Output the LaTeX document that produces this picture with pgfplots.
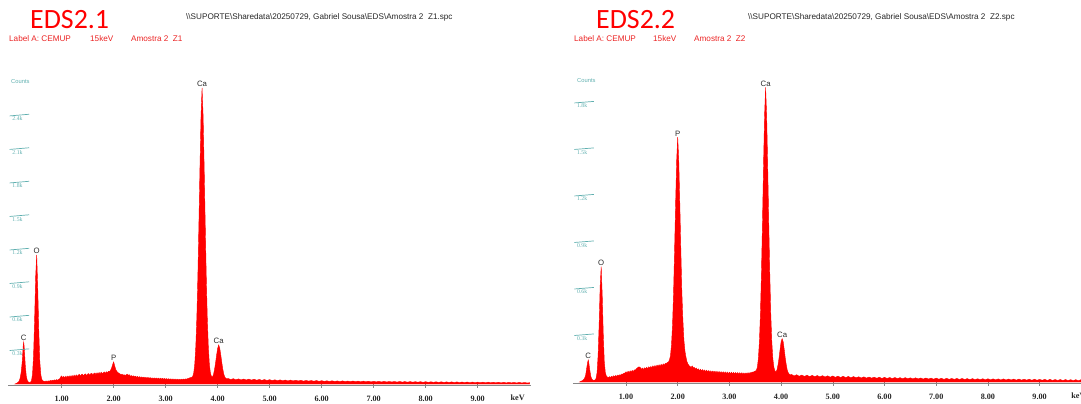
\documentclass[border=0pt]{standalone}
\usepackage{fontspec}
\setmainfont{Liberation Sans}
\newfontfamily\carlito{Carlito}
\newfontfamily\tnr{Liberation Serif}
\usepackage{pgfplots}
\usepackage{pgfplotstable}
\pgfplotsset{compat=1.18}
\definecolor{specred}{RGB}{255,0,0}
\definecolor{hdrred}{RGB}{235,35,35}
\definecolor{tealc}{RGB}{95,175,175}
\definecolor{axgray}{RGB}{135,135,135}
\definecolor{pklab}{RGB}{45,45,45}

\pgfplotstableread[row sep=\\]{
x y\\
0.10 0.000\\ 0.12 0.004\\ 0.14 0.008\\ 0.16 0.015\\ 0.18 0.025\\ 0.20 0.050\\ 0.22 0.100\\ 0.24 0.190\\ 0.26 0.340\\ 0.27 0.376\\
0.28 0.330\\ 0.30 0.170\\ 0.32 0.070\\ 0.34 0.030\\ 0.36 0.018\\ 0.38 0.014\\ 0.40 0.016\\ 0.42 0.030\\ 0.44 0.090\\ 0.46 0.260\\
0.48 0.580\\ 0.50 0.960\\ 0.52 1.155\\ 0.54 0.860\\ 0.56 0.480\\ 0.58 0.200\\ 0.60 0.080\\ 0.62 0.040\\ 0.64 0.028\\ 0.66 0.025\\
0.68 0.022\\ 0.70 0.028\\ 0.72 0.021\\ 0.74 0.029\\ 0.76 0.024\\ 0.78 0.032\\ 0.80 0.026\\ 0.82 0.034\\ 0.84 0.028\\ 0.86 0.037\\
0.88 0.031\\ 0.90 0.040\\ 0.92 0.034\\ 0.94 0.042\\ 0.96 0.045\\ 0.98 0.062\\ 1.00 0.072\\ 1.02 0.056\\ 1.04 0.068\\ 1.06 0.054\\
1.08 0.070\\ 1.10 0.058\\ 1.12 0.072\\ 1.14 0.059\\ 1.16 0.075\\ 1.18 0.060\\ 1.20 0.077\\ 1.22 0.064\\ 1.24 0.080\\ 1.26 0.066\\
1.28 0.082\\ 1.30 0.068\\ 1.32 0.081\\ 1.34 0.086\\ 1.36 0.070\\ 1.38 0.085\\ 1.40 0.088\\ 1.42 0.073\\ 1.44 0.087\\ 1.46 0.091\\
1.48 0.075\\ 1.50 0.089\\ 1.52 0.094\\ 1.54 0.078\\ 1.56 0.093\\ 1.58 0.096\\ 1.60 0.081\\ 1.62 0.095\\ 1.64 0.099\\ 1.66 0.084\\
1.68 0.101\\ 1.70 0.088\\ 1.72 0.104\\ 1.74 0.090\\ 1.76 0.106\\ 1.78 0.094\\ 1.80 0.100\\ 1.82 0.108\\ 1.84 0.096\\ 1.86 0.110\\
1.88 0.101\\ 1.90 0.114\\ 1.92 0.109\\ 1.94 0.124\\ 1.96 0.142\\ 1.98 0.174\\ 2.00 0.198\\ 2.02 0.162\\ 2.04 0.130\\ 2.06 0.114\\
2.08 0.104\\ 2.10 0.096\\ 2.12 0.092\\ 2.14 0.084\\ 2.16 0.088\\ 2.18 0.078\\ 2.20 0.084\\ 2.22 0.076\\ 2.24 0.082\\ 2.26 0.088\\
2.28 0.078\\ 2.30 0.084\\ 2.32 0.070\\ 2.34 0.076\\ 2.36 0.068\\ 2.38 0.074\\ 2.40 0.064\\ 2.42 0.070\\ 2.44 0.060\\ 2.46 0.068\\
2.48 0.058\\ 2.50 0.066\\ 2.52 0.056\\ 2.54 0.064\\ 2.56 0.055\\ 2.58 0.062\\ 2.60 0.053\\ 2.62 0.060\\ 2.64 0.052\\ 2.66 0.059\\
2.68 0.050\\ 2.70 0.058\\ 2.72 0.049\\ 2.74 0.056\\ 2.76 0.048\\ 2.78 0.055\\ 2.80 0.047\\ 2.82 0.054\\ 2.84 0.046\\ 2.86 0.053\\
2.88 0.045\\ 2.90 0.052\\ 2.92 0.044\\ 2.94 0.051\\ 2.96 0.043\\ 2.98 0.050\\ 3.00 0.042\\ 3.02 0.049\\ 3.04 0.041\\ 3.06 0.048\\
3.08 0.040\\ 3.10 0.047\\ 3.12 0.039\\ 3.14 0.046\\ 3.16 0.038\\ 3.18 0.045\\ 3.20 0.037\\ 3.22 0.044\\ 3.24 0.036\\ 3.26 0.043\\
3.28 0.037\\ 3.30 0.044\\ 3.32 0.038\\ 3.34 0.045\\ 3.36 0.040\\ 3.38 0.046\\ 3.40 0.043\\ 3.42 0.049\\ 3.44 0.050\\ 3.46 0.055\\
3.48 0.058\\ 3.50 0.060\\ 3.52 0.068\\ 3.54 0.100\\ 3.56 0.180\\ 3.58 0.340\\ 3.60 0.600\\ 3.62 0.980\\ 3.64 1.450\\ 3.66 1.950\\
3.68 2.400\\ 3.70 2.650\\ 3.72 2.400\\ 3.74 1.950\\ 3.76 1.450\\ 3.78 0.980\\ 3.80 0.600\\ 3.82 0.340\\ 3.84 0.180\\ 3.86 0.100\\
3.88 0.068\\ 3.90 0.062\\ 3.92 0.085\\ 3.94 0.130\\ 3.96 0.190\\ 3.98 0.260\\ 4.00 0.320\\ 4.02 0.350\\ 4.04 0.320\\ 4.06 0.260\\
4.08 0.190\\ 4.10 0.130\\ 4.12 0.085\\ 4.14 0.060\\ 4.16 0.050\\ 4.18 0.046\\ 4.20 0.050\\ 4.25 0.040\\ 4.30 0.048\\ 4.35 0.038\\
4.40 0.046\\ 4.45 0.037\\ 4.50 0.045\\ 4.55 0.036\\ 4.60 0.044\\ 4.65 0.035\\ 4.70 0.043\\ 4.75 0.034\\ 4.80 0.041\\ 4.85 0.033\\
4.90 0.040\\ 4.95 0.032\\ 5.00 0.039\\ 5.05 0.031\\ 5.10 0.038\\ 5.15 0.030\\ 5.20 0.037\\ 5.25 0.029\\ 5.30 0.036\\ 5.35 0.028\\
5.40 0.035\\ 5.45 0.028\\ 5.50 0.034\\ 5.55 0.027\\ 5.60 0.033\\ 5.65 0.026\\ 5.70 0.032\\ 5.75 0.026\\ 5.80 0.031\\ 5.85 0.025\\
5.90 0.031\\ 5.95 0.024\\ 6.00 0.030\\ 6.05 0.024\\ 6.10 0.029\\ 6.15 0.023\\ 6.20 0.029\\ 6.25 0.023\\ 6.30 0.028\\ 6.35 0.022\\
6.40 0.028\\ 6.45 0.022\\ 6.50 0.027\\ 6.55 0.021\\ 6.60 0.027\\ 6.65 0.021\\ 6.70 0.026\\ 6.75 0.020\\ 6.80 0.026\\ 6.85 0.020\\
6.90 0.025\\ 6.95 0.019\\ 7.00 0.025\\ 7.05 0.019\\ 7.10 0.024\\ 7.15 0.018\\ 7.20 0.024\\ 7.25 0.018\\ 7.30 0.023\\ 7.35 0.018\\
7.40 0.023\\ 7.45 0.017\\ 7.50 0.023\\ 7.55 0.017\\ 7.60 0.022\\ 7.65 0.016\\ 7.70 0.022\\ 7.75 0.016\\ 7.80 0.021\\ 7.85 0.016\\
7.90 0.021\\ 7.95 0.015\\ 8.00 0.021\\ 8.05 0.015\\ 8.10 0.020\\ 8.15 0.015\\ 8.20 0.020\\ 8.25 0.014\\ 8.30 0.020\\ 8.35 0.014\\
8.40 0.019\\ 8.45 0.014\\ 8.50 0.019\\ 8.55 0.013\\ 8.60 0.019\\ 8.65 0.013\\ 8.70 0.018\\ 8.75 0.013\\ 8.80 0.018\\ 8.85 0.012\\
8.90 0.018\\ 8.95 0.012\\ 9.00 0.017\\ 9.05 0.012\\ 9.10 0.017\\ 9.15 0.011\\ 9.20 0.017\\ 9.25 0.011\\ 9.30 0.016\\ 9.35 0.011\\
9.40 0.016\\ 9.45 0.010\\ 9.50 0.016\\ 9.55 0.010\\ 9.60 0.015\\ 9.65 0.010\\ 9.70 0.015\\ 9.75 0.009\\ 9.80 0.015\\ 9.85 0.009\\
9.90 0.014\\ 9.95 0.009\\ 10.00 0.012\\
}\edsA

\pgfplotstableread[row sep=\\]{
x y\\
0.10 0.000\\ 0.12 0.003\\ 0.14 0.006\\ 0.16 0.010\\ 0.18 0.015\\ 0.20 0.025\\ 0.22 0.045\\ 0.24 0.090\\ 0.26 0.130\\ 0.27 0.142\\
0.28 0.125\\ 0.30 0.075\\ 0.32 0.035\\ 0.34 0.018\\ 0.36 0.012\\ 0.38 0.011\\ 0.40 0.013\\ 0.42 0.022\\ 0.44 0.060\\ 0.46 0.170\\
0.48 0.370\\ 0.50 0.620\\ 0.52 0.744\\ 0.54 0.560\\ 0.56 0.310\\ 0.58 0.130\\ 0.60 0.060\\ 0.62 0.038\\ 0.64 0.032\\ 0.66 0.028\\
0.68 0.035\\ 0.70 0.029\\ 0.72 0.037\\ 0.74 0.031\\ 0.76 0.040\\ 0.78 0.033\\ 0.80 0.042\\ 0.82 0.036\\ 0.84 0.045\\ 0.86 0.040\\
0.88 0.047\\ 0.90 0.044\\ 0.92 0.052\\ 0.94 0.050\\ 0.96 0.056\\ 0.98 0.058\\ 1.00 0.066\\ 1.02 0.058\\ 1.04 0.070\\ 1.06 0.060\\
1.08 0.072\\ 1.10 0.064\\ 1.12 0.075\\ 1.14 0.066\\ 1.16 0.078\\ 1.18 0.076\\ 1.20 0.086\\ 1.22 0.090\\ 1.24 0.097\\ 1.26 0.097\\
1.28 0.092\\ 1.30 0.082\\ 1.32 0.090\\ 1.34 0.080\\ 1.36 0.092\\ 1.38 0.084\\ 1.40 0.095\\ 1.42 0.086\\ 1.44 0.098\\ 1.46 0.089\\
1.48 0.100\\ 1.50 0.092\\ 1.52 0.104\\ 1.54 0.094\\ 1.56 0.106\\ 1.58 0.097\\ 1.60 0.109\\ 1.62 0.100\\ 1.64 0.111\\ 1.66 0.102\\
1.68 0.114\\ 1.70 0.105\\ 1.72 0.117\\ 1.74 0.108\\ 1.76 0.120\\ 1.78 0.118\\ 1.80 0.127\\ 1.82 0.128\\ 1.84 0.142\\ 1.86 0.170\\
1.88 0.240\\ 1.90 0.370\\ 1.92 0.580\\ 1.94 0.860\\ 1.96 1.160\\ 1.98 1.430\\ 2.00 1.580\\ 2.02 1.430\\ 2.04 1.160\\ 2.06 0.860\\
2.08 0.580\\ 2.10 0.400\\ 2.12 0.270\\ 2.14 0.200\\ 2.16 0.160\\ 2.18 0.130\\ 2.20 0.115\\ 2.22 0.105\\ 2.24 0.100\\ 2.26 0.094\\
2.28 0.104\\ 2.30 0.093\\ 2.32 0.094\\ 2.34 0.084\\ 2.36 0.090\\ 2.38 0.078\\ 2.40 0.085\\ 2.42 0.073\\ 2.44 0.082\\ 2.46 0.071\\
2.48 0.080\\ 2.50 0.069\\ 2.52 0.078\\ 2.54 0.067\\ 2.56 0.076\\ 2.58 0.065\\ 2.60 0.074\\ 2.62 0.063\\ 2.64 0.072\\ 2.66 0.062\\
2.68 0.071\\ 2.70 0.061\\ 2.72 0.070\\ 2.74 0.060\\ 2.76 0.069\\ 2.78 0.059\\ 2.80 0.068\\ 2.82 0.058\\ 2.84 0.067\\ 2.86 0.057\\
2.88 0.066\\ 2.90 0.056\\ 2.92 0.065\\ 2.94 0.055\\ 2.96 0.064\\ 2.98 0.054\\ 3.00 0.063\\ 3.02 0.054\\ 3.04 0.063\\ 3.06 0.053\\
3.08 0.062\\ 3.10 0.052\\ 3.12 0.061\\ 3.14 0.052\\ 3.16 0.061\\ 3.18 0.051\\ 3.20 0.060\\ 3.22 0.051\\ 3.24 0.060\\ 3.26 0.050\\
3.28 0.059\\ 3.30 0.050\\ 3.32 0.059\\ 3.34 0.052\\ 3.36 0.060\\ 3.38 0.053\\ 3.40 0.061\\ 3.42 0.058\\ 3.44 0.064\\ 3.46 0.063\\
3.48 0.068\\ 3.50 0.070\\ 3.52 0.075\\ 3.54 0.095\\ 3.56 0.150\\ 3.58 0.260\\ 3.60 0.440\\ 3.62 0.710\\ 3.64 1.040\\ 3.66 1.400\\
3.68 1.720\\ 3.70 1.900\\ 3.72 1.720\\ 3.74 1.400\\ 3.76 1.040\\ 3.78 0.710\\ 3.80 0.440\\ 3.82 0.260\\ 3.84 0.150\\ 3.86 0.095\\
3.88 0.072\\ 3.90 0.065\\ 3.92 0.078\\ 3.94 0.110\\ 3.96 0.155\\ 3.98 0.210\\ 4.00 0.260\\ 4.02 0.280\\ 4.04 0.260\\ 4.06 0.210\\
4.08 0.155\\ 4.10 0.110\\ 4.12 0.075\\ 4.14 0.058\\ 4.16 0.050\\ 4.18 0.046\\ 4.20 0.049\\ 4.25 0.039\\ 4.30 0.047\\ 4.35 0.037\\
4.40 0.045\\ 4.45 0.036\\ 4.50 0.044\\ 4.55 0.035\\ 4.60 0.043\\ 4.65 0.034\\ 4.70 0.042\\ 4.75 0.033\\ 4.80 0.041\\ 4.85 0.032\\
4.90 0.040\\ 4.95 0.031\\ 5.00 0.039\\ 5.05 0.030\\ 5.10 0.038\\ 5.15 0.029\\ 5.20 0.037\\ 5.25 0.028\\ 5.30 0.036\\ 5.35 0.027\\
5.40 0.035\\ 5.45 0.027\\ 5.50 0.034\\ 5.55 0.026\\ 5.60 0.033\\ 5.65 0.025\\ 5.70 0.032\\ 5.75 0.025\\ 5.80 0.031\\ 5.85 0.024\\
5.90 0.031\\ 5.95 0.023\\ 6.00 0.030\\ 6.05 0.023\\ 6.10 0.029\\ 6.15 0.022\\ 6.20 0.029\\ 6.25 0.022\\ 6.30 0.028\\ 6.35 0.021\\
6.40 0.028\\ 6.45 0.021\\ 6.50 0.027\\ 6.55 0.020\\ 6.60 0.027\\ 6.65 0.020\\ 6.70 0.026\\ 6.75 0.019\\ 6.80 0.026\\ 6.85 0.019\\
6.90 0.025\\ 6.95 0.018\\ 7.00 0.025\\ 7.05 0.018\\ 7.10 0.024\\ 7.15 0.017\\ 7.20 0.024\\ 7.25 0.017\\ 7.30 0.023\\ 7.35 0.017\\
7.40 0.023\\ 7.45 0.016\\ 7.50 0.023\\ 7.55 0.016\\ 7.60 0.022\\ 7.65 0.015\\ 7.70 0.022\\ 7.75 0.015\\ 7.80 0.021\\ 7.85 0.015\\
7.90 0.021\\ 7.95 0.014\\ 8.00 0.021\\ 8.05 0.014\\ 8.10 0.020\\ 8.15 0.014\\ 8.20 0.020\\ 8.25 0.013\\ 8.30 0.020\\ 8.35 0.013\\
8.40 0.019\\ 8.45 0.013\\ 8.50 0.019\\ 8.55 0.012\\ 8.60 0.019\\ 8.65 0.012\\ 8.70 0.018\\ 8.75 0.012\\ 8.80 0.018\\ 8.85 0.011\\
8.90 0.018\\ 8.95 0.011\\ 9.00 0.017\\ 9.05 0.011\\ 9.10 0.017\\ 9.15 0.010\\ 9.20 0.017\\ 9.25 0.010\\ 9.30 0.016\\ 9.35 0.010\\
9.40 0.016\\ 9.45 0.009\\ 9.50 0.016\\ 9.55 0.009\\ 9.60 0.015\\ 9.65 0.009\\ 9.70 0.015\\ 9.75 0.008\\ 9.80 0.015\\ 9.85 0.008\\
9.90 0.014\\ 9.95 0.008\\ 10.00 0.011\\
}\edsB

\pgfplotsset{
  edsaxis/.style={
    scale only axis, clip=false,
    axis x line*=bottom, axis y line=none,
    x axis line style={-, axgray, line width=1.3bp},
    xtick={1,2,3,4,5,6,7,8,9},
    xticklabels={1.00,2.00,3.00,4.00,5.00,6.00,7.00,8.00,9.00},
    major tick length=4bp, tick align=center,
    xtick style={axgray, line width=0.6bp},
    xticklabel style={font=\tnr\bfseries\fontsize{8.2}{9}\selectfont, text=black!85, yshift=-5bp},
  },
}
\tikzset{
  pk/.style={font=\fontsize{7.8}{8}\selectfont, text=pklab, anchor=south, inner sep=0.8bp},
  ylab/.style={font=\tnr\fontsize{5.8}{6}\selectfont, text=tealc, anchor=north west, inner sep=0.6bp, xshift=2bp},
}

\begin{document}
\begin{tikzpicture}[x=1bp,y=1bp]
\useasboundingbox (0,0) rectangle (1081,403);

% ---------- left panel ----------
\begin{axis}[edsaxis, at={(8.1bp,17.3bp)}, anchor=south west,
  width=522.6bp, height=303.3bp,
  xmin=-0.03, xmax=10.02, ymin=-0.015, ymax=2.7]
  \addplot[draw=specred, line width=0.4bp, fill=specred] table[x=x,y=y] {\edsA} \closedcycle;
  \pgfplotsinvokeforeach{0.3,0.6,0.9,1.2,1.5,1.8,2.1,2.4}{
    \draw[tealc, line width=0.7bp] (axis cs:0,#1) -- ++(18bp,0);
    \node[ylab] at (axis cs:0,#1) {#1k};
  }
  \node[pk] at (axis cs:0.27,0.376) {C};
  \node[pk] at (axis cs:0.52,1.155) {O};
  \node[pk] at (axis cs:2.00,0.200) {P};
  \node[pk] at (axis cs:3.70,2.650) {Ca};
  \node[pk] at (axis cs:4.02,0.350) {Ca};
  \node[font=\tnr\bfseries\fontsize{8.2}{9}\selectfont, text=black!85, anchor=north, inner sep=0pt] at (axis cs:9.77,-0.015) [yshift=-9bp] {keV};
\end{axis}

% ---------- right panel ----------
\begin{axis}[edsaxis, at={(572.75bp,19.45bp)}, anchor=south west,
  width=544.4bp, height=311.6bp,
  xmin=-0.03, xmax=10.5, ymin=-0.01, ymax=2.0]
  \addplot[draw=specred, line width=0.4bp, fill=specred] table[x=x,y=y] {\edsB} \closedcycle;
  \pgfplotsinvokeforeach{0.3,0.6,0.9,1.2,1.5,1.8}{
    \draw[tealc, line width=0.7bp] (axis cs:0,#1) -- ++(18bp,0);
    \node[ylab] at (axis cs:0,#1) {#1k};
  }
  \node[pk] at (axis cs:0.27,0.142) {C};
  \node[pk] at (axis cs:0.52,0.744) {O};
  \node[pk] at (axis cs:2.00,1.580) {P};
  \node[pk] at (axis cs:3.70,1.900) {Ca};
  \node[pk] at (axis cs:4.02,0.280) {Ca};
  \node[font=\tnr\bfseries\fontsize{8.2}{9}\selectfont, text=black!85, anchor=north, inner sep=0pt] at (axis cs:9.75,-0.01) [yshift=-9bp] {keV};
\end{axis}

% ---------- headers ----------
\node[anchor=base west, inner sep=0pt, text=red, font=\carlito\fontsize{28}{30}\selectfont] at (30,375) {EDS2.1};
\node[anchor=base west, inner sep=0pt, text=red, font=\carlito\fontsize{28}{30}\selectfont] at (596,375) {EDS2.2};
\node[anchor=base west, inner sep=0pt, text=black!85, font=\fontsize{8.2}{9}\selectfont] at (186,384) {\textbackslash\textbackslash SUPORTE\textbackslash Sharedata\textbackslash 20250729, Gabriel Sousa\textbackslash EDS\textbackslash Amostra 2\ \ Z1.spc};
\node[anchor=base west, inner sep=0pt, text=black!85, font=\fontsize{8.2}{9}\selectfont] at (748,384) {\textbackslash\textbackslash SUPORTE\textbackslash Sharedata\textbackslash 20250729, Gabriel Sousa\textbackslash EDS\textbackslash Amostra 2\ \ Z2.spc};
\begin{scope}[every node/.style={anchor=base west, inner sep=0pt, text=hdrred, font=\fontsize{8.2}{9}\selectfont}]
\node at (9,362) {Label A: CEMUP};
\node at (90,362) {15keV};
\node at (131,362) {Amostra 2\ \ Z1};
\node at (574,362) {Label A: CEMUP};
\node at (653,362) {15keV};
\node at (694,362) {Amostra 2\ \ Z2};
\end{scope}
\node[anchor=west, inner sep=0pt, text=tealc, font=\fontsize{5.8}{6}\selectfont] at (11,321) {Counts};
\node[anchor=west, inner sep=0pt, text=tealc, font=\fontsize{5.8}{6}\selectfont] at (577,322) {Counts};
\end{tikzpicture}
\end{document}
